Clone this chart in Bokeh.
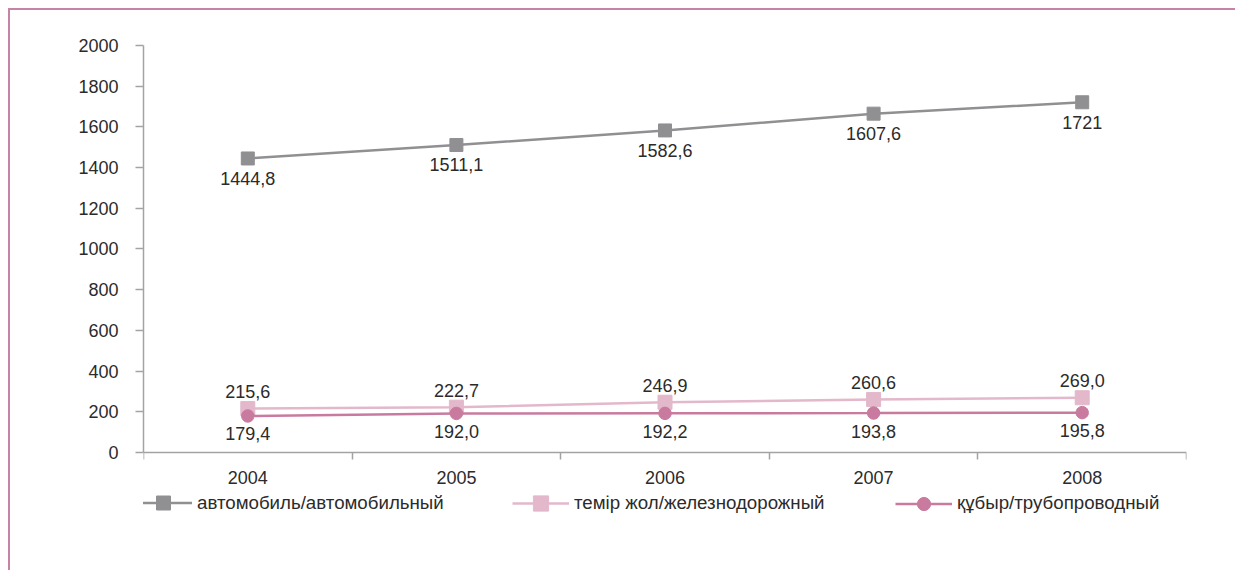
from bokeh.plotting import figure
from bokeh.models import FixedTicker, Legend, LegendItem, Range1d, ColumnDataSource
from bokeh.core.properties import value
from bokeh.embed import file_html
from bokeh.resources import INLINE

years = ["2004", "2005", "2006", "2007", "2008"]
auto_values = [1444.8, 1511.1, 1582.6, 1665.0, 1721.0]
auto_labels = ["1444,8", "1511,1", "1582,6", "1607,6", "1721"]
rail_values = [215.6, 222.7, 246.9, 260.6, 269.0]
rail_labels = ["215,6", "222,7", "246,9", "260,6", "269,0"]
pipe_values = [179.4, 192.0, 192.2, 193.8, 195.8]
pipe_labels = ["179,4", "192,0", "192,2", "193,8", "195,8"]
series_names = ["автомобиль/автомобильный", "темір жол/железнодорожный", "құбыр/трубопроводный"]
y_ticks = [0, 200, 400, 600, 800, 1000, 1200, 1400, 1600, 1800, 2000]

FONT = "Liberation Sans"
TXT = "#2b2b2b"
GREY = "#909093"
RAIL = "#e3b8cb"
PIPE = "#c97b9f"
BORDER = "#c882a5"
AXIS = "#a3a3a6"

xs = [i + 0.5 for i in range(len(years))]

p = figure(width=1225, height=560, output_backend="svg", toolbar_location=None,
           x_range=Range1d(0, len(years)), y_range=Range1d(-580, 2000),
           frame_width=1043, frame_height=525,
           min_border_left=133, min_border_right=49, min_border_top=35, min_border_bottom=0)
p.styles = {"border-top": f"2px solid {BORDER}", "border-left": f"2px solid {BORDER}",
            "margin-left": "8px", "margin-top": "8px"}
p.outline_line_color = None
p.xgrid.visible = False
p.ygrid.visible = False

# axes
p.xaxis.fixed_location = 0
p.xaxis.ticker = FixedTicker(ticks=xs, minor_ticks=list(range(len(years) + 1)))
p.xaxis.major_label_overrides = {x: y for x, y in zip(xs, years)}
p.xaxis.major_tick_out = 0
p.xaxis.major_tick_in = 0
p.xaxis.minor_tick_out = 7
p.xaxis.minor_tick_in = 0
p.xaxis.minor_tick_line_color = AXIS
p.xaxis.minor_tick_line_width = 1.5
p.xaxis.major_label_standoff = 12
p.yaxis.ticker = FixedTicker(ticks=y_ticks, minor_ticks=[])
p.yaxis.bounds = (0, 2000)
p.yaxis.major_tick_out = 8
p.yaxis.major_tick_in = 0
p.yaxis.major_label_standoff = 17
for ax in (p.xaxis[0], p.yaxis[0]):
    ax.axis_line_color = AXIS
    ax.axis_line_width = 1.5
    ax.major_tick_line_color = AXIS
    ax.major_tick_line_width = 1.5
    ax.major_label_text_font = FONT
    ax.major_label_text_font_size = "18px"
    ax.major_label_text_color = TXT

src = ColumnDataSource(dict(x=xs, auto=auto_values, auto_l=auto_labels,
                            rail=rail_values, rail_l=rail_labels,
                            pipe=pipe_values, pipe_l=pipe_labels))

la = p.line("x", "auto", source=src, line_color=GREY, line_width=2.5)
ma = p.scatter("x", "auto", source=src, marker="square", size=13, fill_color=GREY, line_color=GREY)
lr = p.line("x", "rail", source=src, line_color=RAIL, line_width=2.5)
mr = p.scatter("x", "rail", source=src, marker="square", size=14, fill_color=RAIL, line_color=RAIL)
lp = p.line("x", "pipe", source=src, line_color=PIPE, line_width=2.5)
mp = p.scatter("x", "pipe", source=src, marker="circle", size=12.5, fill_color=PIPE, line_color=PIPE)

common = dict(source=src, text_font_size="18px", text_color=TXT, text_align="center",
              text_baseline="middle", text_font=value(FONT))
p.text("x", "auto", text="auto_l", y_offset=20, **common)
p.text("x", "rail", text="rail_l", y_offset=-17, **common)
p.text("x", "pipe", text="pipe_l", y_offset=18, **common)

legend_specs = [
    (series_names[0], [la, ma], (-9, 50), 58, 35),
    (series_names[1], [lr, mr], (369, 48), 57, 38),
    (series_names[2], [lp, mp], (752, 50.5), 57, 33),
]
for name, rends, loc, gw, gh in legend_specs:
    lg = Legend(items=[LegendItem(label=name, renderers=rends)],
                orientation="horizontal", location=loc,
                border_line_alpha=0, background_fill_alpha=0,
                label_text_font=FONT, label_text_font_size="18.7px", label_text_color=TXT,
                glyph_width=gw, glyph_height=gh, spacing=0, label_standoff=5,
                padding=0, margin=0)
    p.add_layout(lg, "center")

open("out.html", "w").write(file_html(p, INLINE))
